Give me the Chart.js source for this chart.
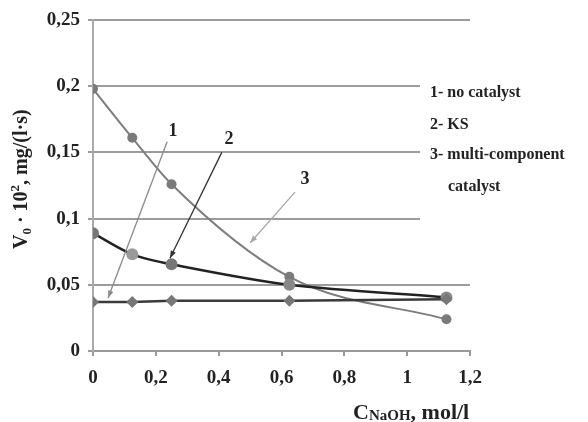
<!DOCTYPE html>
<html>
<head>
<meta charset="utf-8">
<script src="https://cdn.jsdelivr.net/npm/chart.js@4/dist/chart.umd.min.js"></script>
<style>
  html, body { margin: 0; padding: 0; background: #fff; }
  #wrap { width: 588px; height: 422px; }
</style>
</head>
<body>
<div id="wrap"><canvas id="rateChart" width="588" height="422"></canvas></div>
<script>
// concentration of NaOH, mol/l
const concentrations = [0, 0.125, 0.25, 0.625, 1.125];
// V0 * 10^2, mg/(l*s)
const noCatalyst = [0.037, 0.037, 0.038, 0.038, 0.039];
const ks = [0.089, 0.073, 0.0655, 0.05, 0.0405];
const multiComponent = [0.198, 0.161, 0.126, 0.056, 0.024];

const xTicks = [0, 0.2, 0.4, 0.6, 0.8, 1, 1.2];
const yTicks = [0, 0.05, 0.1, 0.15, 0.2, 0.25];

const legendLines = ['1- no catalyst', '2- KS', '3- multi-component', 'catalyst'];

// callout numbers with arrows, in data units
const calloutText = ['1', '2', '3'];
const calloutLabelX = [0.255, 0.433, 0.675];
const calloutLabelY = [0.166, 0.160, 0.130];
const arrowFromX = [0.236, 0.41, 0.643];
const arrowFromY = [0.158, 0.150, 0.120];
const arrowToX = [0.048, 0.245, 0.50];
const arrowToY = [0.040, 0.070, 0.0816];

const serif = '"Liberation Serif", "Times New Roman", serif';

function pairs(ys) {
    return concentrations.map((c, i) => ({ x: c, y: ys[i] }));
}

function commaNum(v) {
    return String(Number(v.toFixed(2))).replace('.', ',');
}

const extrasPlugin = {
    id: 'extras',
    beforeDatasetsDraw(chart) {
        const ctx = chart.ctx;
        const area = chart.chartArea;
        ctx.save();
        // legend block sits over the grid lines
        ctx.fillStyle = '#fff';
        ctx.fillRect(area.right - 50, 35, chart.width - area.right + 50, 222);
        ctx.fillStyle = '#222';
        ctx.font = 'bold 16px ' + serif;
        ctx.textBaseline = 'middle';
        ctx.textAlign = 'left';
        const lx = area.right - 40;
        ctx.fillText(legendLines[0], lx, 93);
        ctx.fillText(legendLines[1], lx, 125);
        ctx.fillText(legendLines[2], lx, 155);
        ctx.fillText(legendLines[3], lx + 18, 187);
        ctx.restore();
    },
    afterDatasetsDraw(chart) {
        const ctx = chart.ctx;
        const xs = chart.scales.x;
        const ys = chart.scales.y;
        const arrowColors = ['#8a8a8a', '#333', '#a8a8a8'];
        ctx.save();
        for (let i = 0; i < calloutText.length; i++) {
            const x1 = xs.getPixelForValue(arrowFromX[i]);
            const y1 = ys.getPixelForValue(arrowFromY[i]);
            const x2 = xs.getPixelForValue(arrowToX[i]);
            const y2 = ys.getPixelForValue(arrowToY[i]);
            ctx.strokeStyle = arrowColors[i];
            ctx.fillStyle = arrowColors[i];
            ctx.lineWidth = 1.3;
            ctx.beginPath();
            ctx.moveTo(x1, y1);
            ctx.lineTo(x2, y2);
            ctx.stroke();
            const a = Math.atan2(y2 - y1, x2 - x1);
            ctx.beginPath();
            ctx.moveTo(x2, y2);
            ctx.lineTo(x2 - 8 * Math.cos(a - 0.35), y2 - 8 * Math.sin(a - 0.35));
            ctx.lineTo(x2 - 8 * Math.cos(a + 0.35), y2 - 8 * Math.sin(a + 0.35));
            ctx.closePath();
            ctx.fill();

            ctx.fillStyle = '#222';
            ctx.font = 'bold 18px ' + serif;
            ctx.textAlign = 'center';
            ctx.textBaseline = 'middle';
            ctx.fillText(calloutText[i], xs.getPixelForValue(calloutLabelX[i]), ys.getPixelForValue(calloutLabelY[i]));
        }

        // x axis title: C with NaOH subscript
        ctx.fillStyle = '#222';
        ctx.textAlign = 'left';
        ctx.textBaseline = 'alphabetic';
        let px = 353;
        const base = 419;
        ctx.font = 'bold 22px ' + serif;
        ctx.fillText('C', px, base);
        px += ctx.measureText('C').width;
        ctx.font = 'bold 15px ' + serif;
        ctx.fillText('NaOH', px, base + 1);
        px += ctx.measureText('NaOH').width;
        ctx.font = 'bold 22px ' + serif;
        ctx.fillText(', mol/l', px, base);

        // y axis title, rotated
        ctx.translate(27, 249);
        ctx.rotate(-Math.PI / 2);
        const parts = [
            ['V', 20, 0], ['0', 13, 4], [' \u00b7 10', 20, 0], ['2', 13, -8], [', mg/(l\u00b7s)', 20, 0]
        ];
        let p = 0;
        for (const [t, size, dy] of parts) {
            ctx.font = 'bold ' + size + 'px ' + serif;
            ctx.fillText(t, p, dy);
            p += ctx.measureText(t).width;
        }
        ctx.restore();
    }
};

const chart = new Chart(document.getElementById('rateChart').getContext('2d'), {
    type: 'line',
    data: {
        datasets: [
            {
                label: '1- no catalyst',
                data: pairs(noCatalyst),
                borderColor: '#3a3a3a',
                borderWidth: 2.5,
                backgroundColor: '#777',
                pointStyle: 'rectRot',
                pointRadius: 6,
                pointBorderWidth: 0,
                tension: 0
            },
            {
                label: '2- KS',
                data: pairs(ks),
                borderColor: '#222',
                borderWidth: 2.5,
                backgroundColor: ['#777', '#9a9a9a', '#777', '#888', '#888'],
                pointRadius: 6,
                pointBorderWidth: 0,
                tension: 0.3
            },
            {
                label: '3- multi-component catalyst',
                data: pairs(multiComponent),
                borderColor: '#7d7d7d',
                borderWidth: 2,
                backgroundColor: '#7a7a7a',
                pointRadius: 5,
                pointBorderWidth: 0,
                cubicInterpolationMode: 'monotone'
            }
        ]
    },
    options: {
        responsive: false,
        animation: false,
        layout: { padding: { top: 20, right: 118, left: 0, bottom: 0 } },
        plugins: {
            legend: { display: false },
            tooltip: { enabled: false }
        },
        scales: {
            x: {
                type: 'linear',
                min: 0,
                max: 1.2,
                afterBuildTicks: (s) => { s.ticks = xTicks.map(v => ({ value: v })); },
                afterFit: (s) => { s.height = 71; },
                ticks: {
                    callback: (v) => commaNum(v),
                    font: { family: serif, size: 19, weight: 'bold' },
                    color: '#222',
                    padding: 11,
                    maxRotation: 0
                },
                grid: { drawOnChartArea: false, drawTicks: true, tickLength: 5, color: '#999', lineWidth: 2 },
                border: { color: '#999', width: 2 }
            },
            y: {
                min: 0,
                max: 0.25,
                afterBuildTicks: (s) => { s.ticks = yTicks.map(v => ({ value: v })); },
                afterFit: (s) => { s.width = 93; },
                ticks: {
                    callback: (v) => commaNum(v),
                    font: { family: serif, size: 19, weight: 'bold' },
                    color: '#222',
                    padding: 8
                },
                grid: { color: '#9c9c9c', lineWidth: 2, tickLength: 5 },
                border: { color: '#aaa', width: 2 }
            }
        }
    },
    plugins: [extrasPlugin]
});
</script>
</body>
</html>
